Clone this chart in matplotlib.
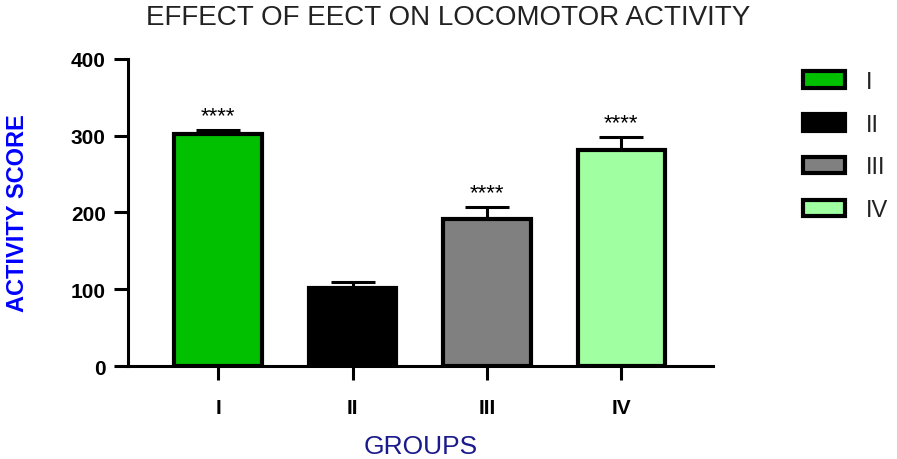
import matplotlib
matplotlib.use("Agg")
import matplotlib.pyplot as plt
from matplotlib.patches import Patch

# data
groups = ["I", "II", "III", "IV"]
means = [302, 102, 192, 281]
errors = [5, 7, 15, 17]
stars = ["****", "", "****", "****"]
colors = ["#00c000", "#000000", "#808080", "#a0ffa0"]

plt.rcParams["font.family"] = ["Liberation Sans", "DejaVu Sans"]

fig = plt.figure(figsize=(8.97, 4.6), dpi=100)
ax = fig.add_axes([0.1427, 0.202, 0.652, 0.668])

x = range(len(groups))
ax.bar(x, means, width=0.65, color=colors, edgecolor="black", linewidth=3, zorder=2)
ax.errorbar(x, means, yerr=[[0] * len(errors), errors], fmt="none",
            ecolor="black", elinewidth=2.2, capsize=16, capthick=2.2, zorder=1)
for xi, m, e, s in zip(x, means, errors, stars):
    if s:
        ax.text(xi, m + e + 5, s, ha="center", va="bottom", fontsize=16, color="black")

ax.set_xlim(-0.67, 3.68)
ax.set_ylim(0, 400)
ax.set_yticks([0, 100, 200, 300, 400])
ax.set_xticks(list(x))
ax.set_xticklabels(groups)
for side in ["top", "right"]:
    ax.spines[side].set_visible(False)
for side in ["left", "bottom"]:
    ax.spines[side].set_linewidth(2.2)
ax.tick_params(axis="both", width=2.2, length=10, labelsize=15)
ax.tick_params(axis="x", pad=13)
ax.tick_params(axis="y", pad=6)
for lab in ax.get_yticklabels() + ax.get_xticklabels():
    lab.set_fontweight("bold")

ax.set_ylabel("ACTIVITY SCORE", color="#0000ff", fontsize=17, fontweight="bold", labelpad=30)
ax.set_xlabel("GROUPS", color="#1a1a8c", fontsize=19, labelpad=12)
fig.suptitle("EFFECT OF EECT ON LOCOMOTOR ACTIVITY", x=0.5, y=0.99, fontsize=20, color="#222222")

handles = [Patch(facecolor=c, edgecolor="black", linewidth=3) for c in colors]
fig.legend(handles, groups, loc="upper left", bbox_to_anchor=(0.871, 0.89),
           frameon=False, fontsize=17, handlelength=1.8, handleheight=0.7,
           labelspacing=0.88, handletextpad=0.9, labelcolor="#222222")

fig.savefig("out.png", dpi=100)
